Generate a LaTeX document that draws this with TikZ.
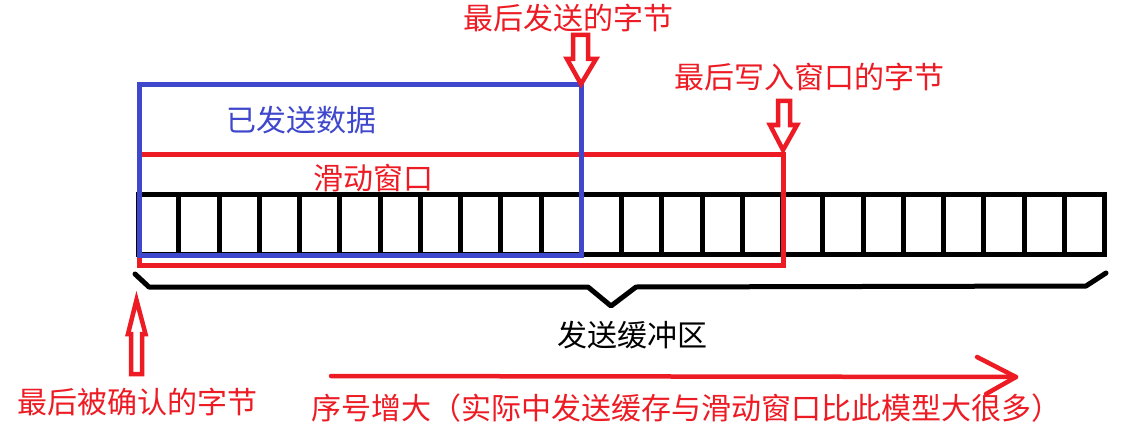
\documentclass[tikz,border=0pt]{standalone}
\usepackage{fontspec}
\newfontfamily\cjk{Noto Sans CJK SC}
\definecolor{pred}{HTML}{ED1C24}
\definecolor{pblue}{HTML}{3F48CC}
\begin{document}
\begin{tikzpicture}[x=1pt,y=-1pt]
\tikzset{
  lbl/.style={inner sep=0pt, font=\cjk\fontsize{30}{36}\selectfont},
  redlbl/.style={lbl, text=pred},
  bufline/.style={draw=black, line width=5pt},
  winbox/.style={draw=pred, line width=5pt},
  sentbox/.style={draw=pblue, line width=5pt},
  blockarrow/.style={draw=pred, line width=4.5pt, fill=white, line join=miter},
  bracepath/.style={draw=black, line width=5pt, line join=round, line cap=round},
  seqarrow/.style={draw=pred, line width=4.5pt, line cap=round, line join=round}
}
\useasboundingbox (0,0) rectangle (1134,433);
\fill[white] (0,0) rectangle (1134,433);

% send buffer
\draw[bufline] (138.5,194.5) rectangle (1104.5,254.5);
\foreach \k in {1,...,23}
  \draw[bufline] ({138.5+\k*40.25},194.5) -- ({138.5+\k*40.25},254.5);

% sliding window (red) and sent data (blue)
\draw[winbox] (139,154) rectangle (783,265.5);
\draw[sentbox] (139,84.5) rectangle (581,255);

% labels inside boxes
\node[lbl, text=pblue] (sent) at (301,120) {已发送数据};
\node[redlbl] (win) at (373.5,178) {滑动窗口};

% top labels
\node[redlbl] (lastsent) at (568.5,18) {最后发送的字节};
\node[redlbl] (lastwrite) at (809.5,77) {最后写入窗口的字节};

% block arrows
\draw[blockarrow] (573,35) -- (588,35) -- (588,59) -- (596,59) -- (581,84)
  -- (567,59) -- (573,59) -- cycle;
\draw[blockarrow] (778,101) -- (790,101) -- (790,125) -- (797,125) -- (783,150)
  -- (770,125) -- (778,125) -- cycle;
\draw[blockarrow] (131,374) -- (142,374) -- (142,334) -- (145.5,334) -- (136.5,300)
  -- (128,334) -- (131,334) -- cycle;

% brace
\draw[bracepath] (135,274) -- (149,287) -- (588,287) -- (611,306) -- (636,287)
  -- (1086,286) -- (1106,273);
\node[lbl] (buffer) at (632,335) {发送缓冲区};

% bottom labels
\node[redlbl] (lastack) at (137.5,402) {最后被确认的字节};
\node[redlbl, anchor=west] (seq) at (311.5,408) {序号增大（实际中发送缓存与滑动窗口比此模型大很多）};

% sequence arrow
\coordinate (seqstart) at (331,376);
\coordinate (seqtip) at (1016,377);
\draw[seqarrow] (seqstart) -- (seqtip);
\draw[seqarrow] (977,357) -- (seqtip) -- (986,394);
\end{tikzpicture}
\end{document}
